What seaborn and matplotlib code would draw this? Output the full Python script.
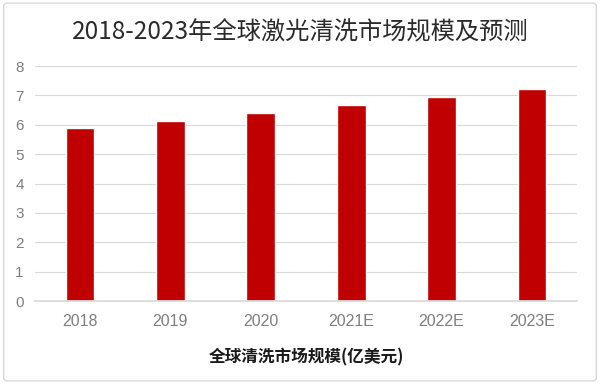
import pandas as pd
import seaborn as sns
import matplotlib.pyplot as plt
from matplotlib.patches import FancyBboxPatch

# values (亿美元)
years = ['2018', '2019', '2020', '2021E', '2022E', '2023E']
market_size = [5.88, 6.13, 6.4, 6.67, 6.95, 7.23]

df = pd.DataFrame({'year': years, 'size': market_size})

sns.set_theme(style='white')
plt.rcParams['font.family'] = ['Noto Sans CJK SC', 'DejaVu Sans']

fig = plt.figure(figsize=(6, 3.84), dpi=100)
ax = fig.add_axes([0.058, 0.216, 0.904, 0.612])

sns.barplot(x='year', y='size', data=df, color='#C00000', saturation=1,
            width=0.32, ax=ax)

ax.set_ylim(0, 8)
ax.set_yticks(range(0, 9))
ax.yaxis.grid(True, color='#d9d9d9', linewidth=0.8)
ax.set_axisbelow(True)
for s in ['top', 'right', 'left']:
    ax.spines[s].set_visible(False)
ax.spines['bottom'].set_color('#d9d9d9')
ax.tick_params(axis='both', length=0, colors='#7f7f7f')
ax.tick_params(axis='x', pad=9, labelsize=11.5)
ax.tick_params(axis='y', pad=8, labelsize=11)
for lbl in ax.get_yticklabels():
    lbl.set_family(['Liberation Sans', 'DejaVu Sans'])
for lbl in ax.get_xticklabels():
    lbl.set_family(['Liberation Sans', 'DejaVu Sans'])
ax.set_ylabel('')
ax.set_xlabel('全球清洗市场规模(亿美元)', fontsize=12, color='#1a1a1a',
              fontweight='bold', labelpad=14)

fig.text(0.5, 0.915, '2018-2023年全球激光清洗市场规模及预测', ha='center',
         va='center', fontsize=17.5, color='#2b2b2b', fontweight='medium')

# light rounded frame around the chart
frame = FancyBboxPatch((0.006, 0.008), 0.988, 0.984, transform=fig.transFigure,
                       boxstyle='round,pad=0,rounding_size=0.008',
                       facecolor='none', edgecolor='#d9d9d9', linewidth=1)
fig.patches.append(frame)

plt.savefig('out.png', dpi=100)
